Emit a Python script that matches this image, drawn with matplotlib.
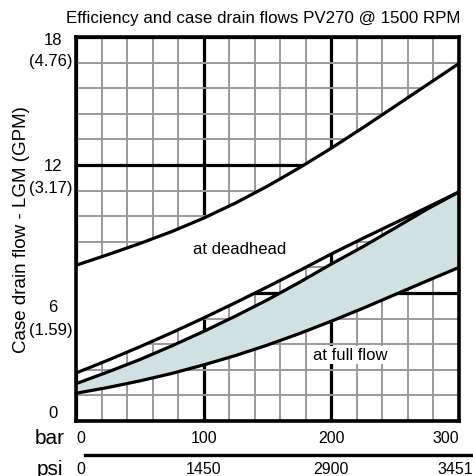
import numpy as np
import matplotlib.pyplot as plt
from matplotlib import transforms

plt.rcParams['font.family'] = ['Liberation Sans', 'DejaVu Sans']

# pressure in bar, case drain flow in L/min
pressure_bar = [0, 25, 50, 75, 100, 125, 150, 175, 200, 225, 250, 275, 300]
deadhead = [7.3, 7.8, 8.32, 8.88, 9.51, 10.22, 11.01, 11.87, 12.79, 13.76, 14.76, 15.76, 16.76]
band_upper = [2.25, 2.85, 3.48, 4.14, 4.83, 5.55, 6.29, 7.05, 7.83, 8.57, 9.29, 10.01, 10.74]
band_middle = [1.75, 2.3, 2.88, 3.52, 4.2, 4.92, 5.68, 6.5, 7.36, 8.18, 9.05, 9.93, 10.74]
full_flow = [1.3, 1.57, 1.88, 2.23, 2.63, 3.07, 3.56, 4.1, 4.68, 5.29, 5.93, 6.57, 7.2]

bar_ticks = [0, 100, 200, 300]
psi_labels = ["0", "1450", "2900", "3451"]
lpm_ticks = [0, 6, 12, 18]
gpm_labels = ["", "(1.59)", "(3.17)", "(4.76)"]

TEAL = "#d1e1e1"
GRID_GREY = "#9a9a9a"

fig = plt.figure(figsize=(4.73, 4.77), dpi=100)
ax = fig.add_axes([0.1607, 0.1153, 0.8097, 0.805])
ax.set_xlim(0, 300)
ax.set_ylim(0, 18)

ax.set_xticks(bar_ticks)
ax.set_xticks(np.arange(0, 301, 20), minor=True)
ax.set_yticks(lpm_ticks)
ax.set_yticks(np.arange(0, 18.01, 1.2), minor=True)
ax.grid(which="minor", color=GRID_GREY, linewidth=1.4, zorder=1)
ax.grid(which="major", color="black", linewidth=2.3, zorder=2)
ax.set_axisbelow(True)
ax.tick_params(which="both", length=0, labelbottom=False, labelleft=False)
for s in ax.spines.values():
    s.set_linewidth(2.6)
    s.set_zorder(6)

ax.fill_between(pressure_bar, band_upper, deadhead, color="white", zorder=3, linewidth=0)
ax.fill_between(pressure_bar, full_flow, band_middle, color=TEAL, zorder=3, linewidth=0)
for curve in (deadhead, band_upper, band_middle, full_flow):
    ax.plot(pressure_bar, curve, color="black", linewidth=2.3, zorder=4,
            solid_capstyle="butt", solid_joinstyle="round")

ax.text(128, 8.1, "at deadhead", fontsize=12, ha="center", va="center", zorder=5)
ax.text(215, 3.1, "at full flow", fontsize=12, ha="center", va="center", zorder=5,
        bbox=dict(facecolor="white", edgecolor="none", pad=1))

fig.text(0.556, 0.962, "Efficiency and case drain flows PV270 @ 1500 RPM",
         fontsize=12.2, ha="center", va="center")
ax.set_ylabel("Case drain flow - LGM (GPM)", fontsize=13.5, labelpad=33)

# left labels: L/min with GPM below
ytrans = transforms.blended_transform_factory(ax.transAxes, ax.transData)
lpm_y = [0.4, 5.35, 12.0, 17.9]
gpm_y = [0, 4.3, 10.95, 16.9]
for v, ly, g, gy in zip(lpm_ticks, lpm_y, gpm_labels, gpm_y):
    ax.text(-0.06, ly, str(v), fontsize=12, ha="center", va="center", transform=ytrans)
    if g:
        ax.text(-0.065, gy, g, fontsize=12, ha="center", va="center", transform=ytrans)

# bottom labels: bar and psi
xtrans = transforms.blended_transform_factory(ax.transData, fig.transFigure)
for v in bar_ticks:
    ha = "left" if v == 0 else ("right" if v == 300 else "center")
    ax.text(v, 0.080, str(v), fontsize=11.5, ha=ha, va="center", transform=xtrans)
for v, lab in zip(bar_ticks, psi_labels):
    ha = "left" if v == 0 else ("right" if v == 300 else "center")
    xpos = v + 11 if v == 300 else v
    ax.text(xpos, 0.016, lab, fontsize=11.5, ha=ha, va="center", transform=xtrans)
fig.text(0.105, 0.080, "bar", fontsize=15, ha="center", va="center")
fig.text(0.105, 0.016, "psi", fontsize=15, ha="center", va="center")
fig.add_artist(plt.Line2D([0.18, 1.0], [0.045, 0.045], color="black", linewidth=2.4))

fig.savefig("out.png", dpi=100)
